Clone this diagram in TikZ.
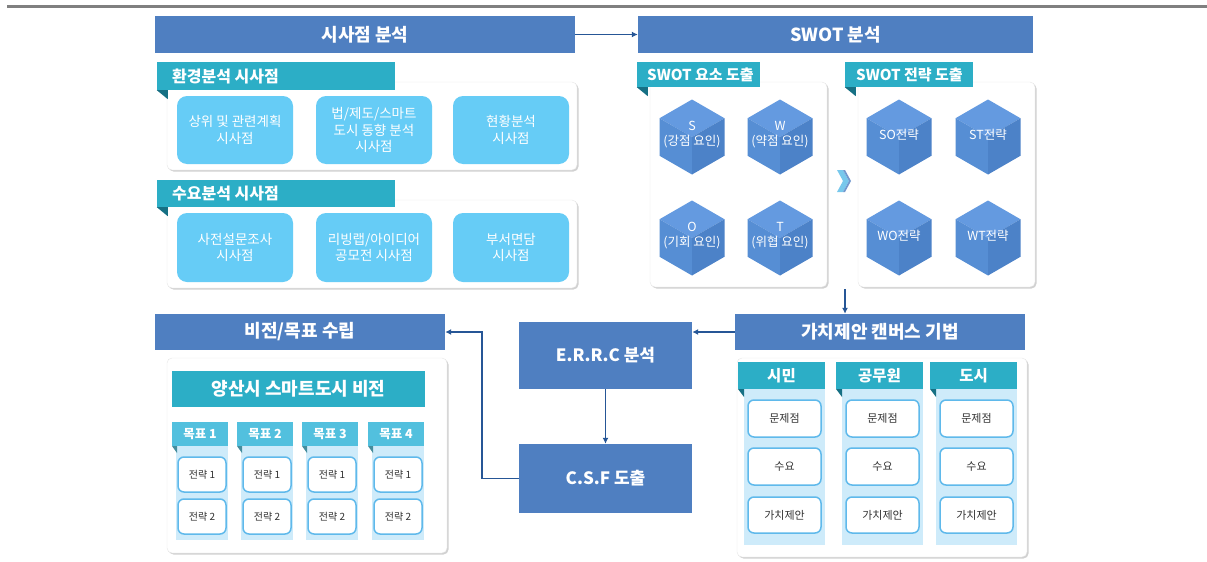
\documentclass[tikz,border=0pt]{standalone}
\usepackage{fontspec}
\setmainfont{Noto Sans CJK KR}
\usetikzlibrary{arrows.meta,calc}
\definecolor{hblue}{RGB}{79,127,193}
\definecolor{abl}{RGB}{38,86,150}
\definecolor{teal1}{RGB}{44,174,198}
\definecolor{tealD}{RGB}{22,112,132}
\definecolor{skyb}{RGB}{102,204,246}
\definecolor{goalt}{RGB}{82,192,222}
\definecolor{colbg}{RGB}{206,235,250}
\definecolor{ibord}{RGB}{95,185,235}
\definecolor{hexA}{RGB}{100,154,224}
\definecolor{hexB}{RGB}{86,142,212}
\definecolor{hexC}{RGB}{76,130,200}
\definecolor{chev}{RGB}{120,200,236}
\definecolor{txtd}{RGB}{50,50,50}
\tikzset{
 hdr/.style={fill=hblue, text=white, inner sep=0pt, font=\bfseries\fontsize{18}{20}\selectfont},
 panel/.style={fill=white, draw=black!10, rounded corners=5pt, inner sep=0pt,
   preaction={fill=black!18, transform canvas={xshift=1.5pt,yshift=-1.5pt}}},
 tabbox/.style={fill=teal1, inner sep=0pt},
 tabtxt/.style={text=white, anchor=west, inner sep=0pt, font=\bfseries\fontsize{16}{18}\selectfont},
 fold/.style={fill=tealD},
 skybox/.style={fill=skyb, text=white, rounded corners=10pt, inner sep=0pt, align=center,
   font=\fontsize{13.5}{16.5}\selectfont},
 hextxt/.style={text=white, align=center, inner sep=0pt, font=\fontsize{12.5}{15}\selectfont},
 bar/.style={fill=teal1, text=white, inner sep=0pt, font=\bfseries\fontsize{18}{20}\selectfont},
 goaltab/.style={fill=goalt, text=white, inner sep=0pt, font=\bfseries\fontsize{12.5}{14}\selectfont},
 cantab/.style={fill=teal1, text=white, inner sep=0pt, font=\bfseries\fontsize{15.5}{17}\selectfont},
 colbox/.style={fill=colbg, inner sep=0pt},
 ibox/.style={fill=white, draw=ibord, line width=1.5pt, rounded corners=6pt, inner sep=0pt, text=txtd},
 conn/.style={draw=abl, line width=1.6pt, -{Latex[length=6pt,width=6pt]}},
}
% style, name, x1, y1, x2, y2, text
\newcommand\boxat[7]{%
 \pgfmathsetmacro\bxw{(#5)-(#3)}\pgfmathsetmacro\bxh{(#6)-(#4)}%
 \pgfmathsetmacro\bxx{((#3)+(#5))/2}\pgfmathsetmacro\bxy{((#4)+(#6))/2}%
 \node[#1, minimum width=\bxw pt, minimum height=\bxh pt] (#2) at (\bxx,\bxy) {#7};}
\newcommand\hexcube[4]{%
 \coordinate (#1) at (#2,#3);
 \fill[hexA] ($(#1)+(0,-37.5)$) -- ($(#1)+(32.5,-18.75)$) -- (#1) -- ($(#1)+(-32.5,-18.75)$) -- cycle;
 \fill[hexB] ($(#1)+(-32.5,-18.75)$) -- (#1) -- ($(#1)+(0,37.5)$) -- ($(#1)+(-32.5,18.75)$) -- cycle;
 \fill[hexC] ($(#1)+(32.5,-18.75)$) -- (#1) -- ($(#1)+(0,37.5)$) -- ($(#1)+(32.5,18.75)$) -- cycle;
 \node[hextxt] (#1t) at ($(#1)+(0,-2)$) {#4};}
\newcommand\goalcol[3]{% name, left x, title
 \boxat{colbox}{#1c}{#2+4}{446}{#2+56}{540}{}
 \fill[tealD!80] (#2,446) -- (#2+5,446) -- (#2+5,453) -- cycle;
 \boxat{goaltab}{#1t}{#2}{422}{#2+56}{446}{#3}
 \boxat{ibox, font=\fontsize{10}{12}\selectfont}{#1a}{#2+6}{457}{#2+54}{492}{전략 1}
 \boxat{ibox, font=\fontsize{10}{12}\selectfont}{#1b}{#2+6}{499}{#2+54}{534}{전략 2}}
\newcommand\cancol[3]{% name, left x, title
 \boxat{colbox}{#1c}{#2+6}{389}{#2+87}{545}{}
 \boxat{cantab}{#1t}{#2}{362}{#2+87}{389}{#3}
 \fill[tealD] (#2,389) -- (#2+6,389) -- (#2+6,397) -- cycle;
 \boxat{ibox, font=\fontsize{11}{13}\selectfont}{#1a}{#2+10}{400}{#2+83}{437}{문제점}
 \boxat{ibox, font=\fontsize{11}{13}\selectfont}{#1b}{#2+10}{448}{#2+83}{485}{수요}
 \boxat{ibox, font=\fontsize{11}{13}\selectfont}{#1d}{#2+10}{497}{#2+83}{533}{가치제안}}
\newcommand\tabat[6]{% name, x1, y1, x2, y2, text-x, text
}
\begin{document}
\begin{tikzpicture}[x=1pt,y=-1pt]
\useasboundingbox (0,0) rectangle (1207,562);
% top rule
\coordinate (r1) at (7,6.5); \coordinate (r2) at (1207,6.5);
\draw[line width=2.2pt, black!50] (r1) -- (r2);
% headers
\boxat{hdr}{sisa}{155}{16}{575}{53}{시사점 분석}
\boxat{hdr}{swot}{638}{16}{1033}{53}{SWOT 분석}
\boxat{hdr}{vision}{155}{314}{445}{350}{비전/목표 수립}
\boxat{hdr}{canvas}{735}{314}{1025}{350}{가치제안 캔버스 기법}
\boxat{hdr, font=\bfseries\fontsize{17}{20}\selectfont}{errc}{519}{322}{692}{389}{E.R.R.C 분석}
\boxat{hdr, font=\bfseries\fontsize{17}{20}\selectfont}{csf}{519}{444}{692}{513}{C.S.F 도출}
% panels
\boxat{panel}{p1}{167}{82}{577}{170}{}
\boxat{panel}{p2}{167}{200}{577}{288}{}
\boxat{panel}{p3}{650}{82}{827}{287}{}
\boxat{panel}{p4}{858}{82}{1035}{287}{}
\boxat{panel}{p5}{167}{358}{447}{553}{}
\boxat{panel}{p6}{737}{358}{1027}{557}{}
% tabs
\boxat{tabbox}{t1}{157}{62}{395}{90}{}
\node[tabtxt] (t1l) at (172,76) {환경분석 시사점};
\fill[fold] (t1.south west) -- ++(11,0) -- ++(0,9) -- cycle;
\boxat{tabbox}{t2}{157}{180}{395}{207}{}
\node[tabtxt] (t2l) at (172,193.5) {수요분석 시사점};
\fill[fold] (t2.south west) -- ++(11,0) -- ++(0,9) -- cycle;
\boxat{tabbox}{t3}{637}{62}{760}{87}{}
\node[tabtxt, font=\bfseries\fontsize{15}{18}\selectfont] (t3l) at (647,74.5) {SWOT 요소 도출};
\fill[fold] (t3.south west) -- ++(11,0) -- ++(0,9) -- cycle;
\boxat{tabbox}{t4}{845}{62}{973}{87}{}
\node[tabtxt, font=\bfseries\fontsize{15}{18}\selectfont] (t4l) at (856,74.5) {SWOT 전략 도출};
\fill[fold] (t4.south west) -- ++(11,0) -- ++(0,9) -- cycle;
% sky boxes
\boxat{skybox}{k1}{177}{96}{293}{164}{상위 및 관련계획\\시사점}
\boxat{skybox}{k2}{316}{96}{432}{164}{법/제도/스마트\\도시 동향 분석\\시사점}
\boxat{skybox}{k3}{453}{96}{569}{164}{현황분석\\시사점}
\boxat{skybox}{k4}{177}{213}{293}{282}{사전설문조사\\시사점}
\boxat{skybox}{k5}{316}{213}{432}{282}{리빙랩/아이디어\\공모전 시사점}
\boxat{skybox}{k6}{453}{213}{569}{282}{부서면담\\시사점}
% hexagons
\hexcube{hS}{692}{137}{S\\(강점 요인)}
\hexcube{hW}{780}{137}{W\\(약점 요인)}
\hexcube{hO}{692}{238}{O\\(기회 요인)}
\hexcube{hT}{780}{238}{T\\(위협 요인)}
\hexcube{hSO}{899}{137}{SO전략}
\hexcube{hST}{988}{137}{ST전략}
\hexcube{hWO}{899}{238}{WO전략}
\hexcube{hWT}{988}{238}{WT전략}
% chevron
\fill[chev] (837,170) -- (843,170) -- (849,181) -- (843,192) -- (837,192) -- (843,181) -- cycle;
\fill[hblue!80] (843,170) -- (845,170) -- (851,181) -- (845,192) -- (843,192) -- (849,181) -- cycle;
% vision panel content
\boxat{bar}{vbar}{172}{371}{425}{407}{양산시 스마트도시 비전}
\goalcol{g1}{172}{목표 1}
\goalcol{g2}{237}{목표 2}
\goalcol{g3}{302}{목표 3}
\goalcol{g4}{368}{목표 4}
% canvas columns
\cancol{c1}{738}{시민}
\cancol{c2}{836}{공무원}
\cancol{c3}{930}{도시}
% connectors
\coordinate (swotbot) at (845,289);
\draw[conn] (sisa.east) -- (swot.west);
\draw[conn] (swotbot) -- (swotbot |- canvas.north);
\draw[conn] (canvas.west) -- (canvas.west -| errc.east);
\draw[conn] (errc.south) -- (csf.north);
\draw[conn] (csf.west) -- ++(-37,0) |- (vision.east);
\end{tikzpicture}
\end{document}
